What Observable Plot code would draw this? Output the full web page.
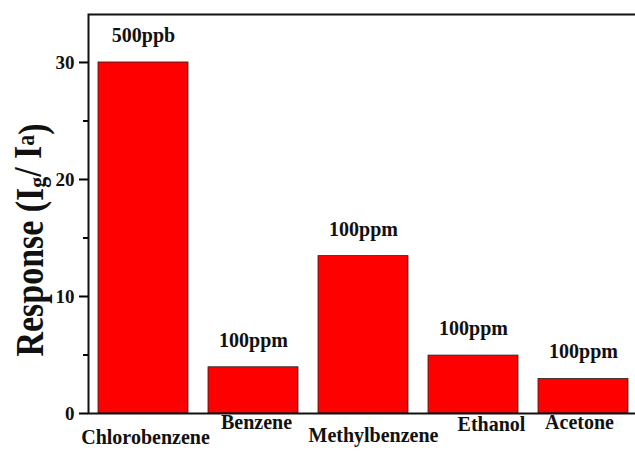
<!DOCTYPE html>
<html><head><meta charset="utf-8">
<script src="https://cdn.jsdelivr.net/npm/d3@7"></script>
<script src="https://cdn.jsdelivr.net/npm/@observablehq/plot@0.6"></script>
<style>body{margin:0;background:#fff;overflow:hidden} svg{display:block;overflow:hidden}</style>
</head><body><div id="chart"></div>
<script>
const categories = ["Chlorobenzene", "Benzene", "Methylbenzene", "Ethanol", "Acetone"];
const responses = [30, 3.95, 13.45, 4.95, 2.95];
const concentrations = ["500ppb", "100ppm", "100ppm", "100ppm", "100ppm"];
const yTicks = [0, 10, 20, 30];
const yMinorTicks = [5, 15, 25];

const data = categories.map((c, i) => ({category: c, response: responses[i], conc: concentrations[i]}));

// layout: staggered category label offsets [dx, dy] from bar centre / axis bottom
const labelOffsets = [[2, 30], [3, 15], [10, 28], [18, 17], [-4, 15]];
const font = "Liberation Serif";

const marks = [
  Plot.barY(data, {x: "category", y: "response", fill: "#ff0000", stroke: "#222", strokeWidth: 0.8}),
  Plot.text(data, {x: "category", y: "response", text: "conc", dy: -27, fontSize: 20, fontWeight: "bold", fill: "#111"}),
  Plot.axisY({ticks: yTicks, tickSize: 9, tickPadding: 5, strokeWidth: 2, label: null, fontSize: 19, fontWeight: "bold", fill: "#111"}),
  Plot.axisY({ticks: yMinorTicks, tickSize: 5, strokeWidth: 2, tickFormat: () => "", label: null}),
  Plot.frame({stroke: "#111", strokeWidth: 2})
];
categories.forEach((c, i) => {
  marks.push(Plot.text([c], {x: d => d, text: d => d, frameAnchor: "bottom", dx: labelOffsets[i][0], dy: labelOffsets[i][1], fontSize: 20, fontWeight: "bold", fill: "#111", style: "letter-spacing:0.4px"}));
});

const chart = Plot.plot({
  width: 635,
  height: 451,
  marginLeft: 88,
  marginTop: 14,
  marginBottom: 38,
  marginRight: -4,
  style: {fontFamily: font, fontSize: "19px", fontWeight: "bold", background: "#fff"},
  x: {domain: categories, paddingInner: 0.18, paddingOuter: 0.09, axis: null},
  y: {domain: [0, 34.1], axis: null},
  marks
});

const svg = d3.select(chart);
const lab = svg.append("text")
  .attr("transform", "translate(43,240) rotate(-90) scale(0.87,1)")
  .attr("text-anchor", "middle")
  .attr("font-family", font)
  .attr("font-weight", "bold")
  .attr("font-size", 39)
  .attr("fill", "#111");
lab.append("tspan").text("Response (I");
lab.append("tspan").attr("dy", "0.12em").attr("font-size", 25).text("g");
lab.append("tspan").attr("dy", "-0.12em").text("/ I");
lab.append("tspan").attr("dy", "-0.3em").attr("font-size", 25).text("a");
lab.append("tspan").attr("dy", "0.3em").text(")");

document.getElementById("chart").appendChild(chart);
</script>
</body></html>
